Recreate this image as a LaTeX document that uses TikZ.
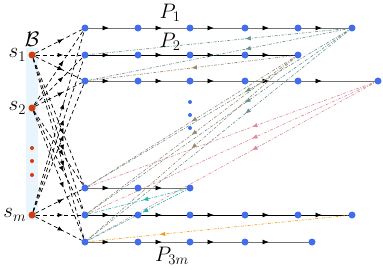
\RequirePackage{fix-cm}
\documentclass[tikz,border=0pt]{standalone}
\usetikzlibrary{arrows.meta, positioning, calc, backgrounds, decorations.markings}
\definecolor{nodeblue}{RGB}{66,110,235}
\definecolor{srcred}{RGB}{210,60,15}
\definecolor{boxblue}{RGB}{234,244,252}
\definecolor{linkA}{RGB}{105,145,145}
\definecolor{linkB}{RGB}{150,135,110}
\definecolor{linkC}{RGB}{225,135,150}
\definecolor{linkD}{RGB}{30,180,170}
\definecolor{linkE}{RGB}{240,160,30}
\tikzset{
  pnode/.style={circle, fill=nodeblue, inner sep=0pt, minimum size=7pt},
  src/.style={circle, fill=srcred, inner sep=0pt, minimum size=7pt},
  ddot/.style={circle, fill=#1, inner sep=0pt, minimum size=4pt},
  lbl/.style={font=\fontsize{21}{24}\selectfont, inner sep=1pt},
  midtip/.style={postaction={decorate}, decoration={markings,
      mark=at position #1 with {\arrow{Latex[length=5.5pt,width=4.5pt]}}}},
  rowline/.style={color=#1, line width=0.8pt, postaction={decorate},
      decoration={markings, mark=at position 24pt with
      {\arrow[black]{Latex[length=6.5pt,width=5pt]}}}},
  feedline/.style={dash pattern=on 4pt off 3pt, line width=0.7pt, midtip=0.6},
  retlink/.style={color=#1, line width=0.6pt,
      dash pattern=on 3pt off 1.5pt on 0.8pt off 1.5pt},
}

\begin{document}
\begin{tikzpicture}[x=1pt, y=-1pt]
\useasboundingbox (0,0) rectangle (383,269);

% path nodes, one row per path
\foreach \r/\y/\xs in {1/28/{85,138,190,245,298,352}, 2/55/{85,138,190,245,298},
    3/81/{85,138,190,245,298,378}, 4/188/{85,138,190},
    5/215/{85,138,190,245,298,352}, 6/242/{85,138,190,245,312}}
  \foreach \x [count=\k] in \xs
    \node[pnode] (p\r-\k) at (\x,\y) {};
\foreach \y [count=\k] in {102,115,128}
  \node[ddot=nodeblue] (vd\k) at (190,\y) {};

% sources
\node[src] (s1) at (32,55) {};
\node[src] (s2) at (32,108) {};
\node[src] (sm) at (32,215) {};
\foreach \y [count=\k] in {148,161,175}
  \node[ddot=srcred] (sd\k) at (32,\y) {};

\node[lbl, left=1pt of s1] (ls1) {$s_1$};
\node[lbl, left=1pt of s2] (ls2) {$s_2$};
\node[lbl, left=1pt of sm] (lsm) {$s_m$};
\node[lbl, above=4pt of s1] (lB) {$\mathcal{B}$};
\node[lbl] (lP1) at (170,13) {$P_1$};
\node[lbl] (lP2) at (170,42) {$P_2$};
\node[lbl] (lP3m) at (172,256) {$P_{3m}$};

\begin{scope}[on background layer]
\fill[boxblue] (26,48) rectangle (38,220);
% path edges
\foreach \r/\n/\c in {1/6/black!55, 2/5/black, 3/6/black!55, 4/3/black!55, 5/6/black, 6/5/black!55}
  \foreach \k [remember=\k as \j (initially 1)] in {2,...,\n}
    \draw[rowline=\c] (p\r-\j.center) -- (p\r-\k.center);
% sources to path heads
\foreach \s in {s1,s2,sm}
  \foreach \r in {1,...,6}
    \draw[feedline] (\s) -- (p\r-1);
% path tails back to later heads
\foreach \i/\n/\c/\t in {1/6/linkA/0.4, 2/5/linkB/0.5, 3/6/linkC/0.43, 4/3/linkD/0.45, 5/6/linkE/0.72}{
  \pgfmathtruncatemacro{\nx}{\i+1}
  \foreach \r in {\nx,...,6}
    \draw[retlink=\c, midtip=\t] (p\i-\n.center) -- (p\r-1.center);
}
\end{scope}
\end{tikzpicture}
\end{document}
